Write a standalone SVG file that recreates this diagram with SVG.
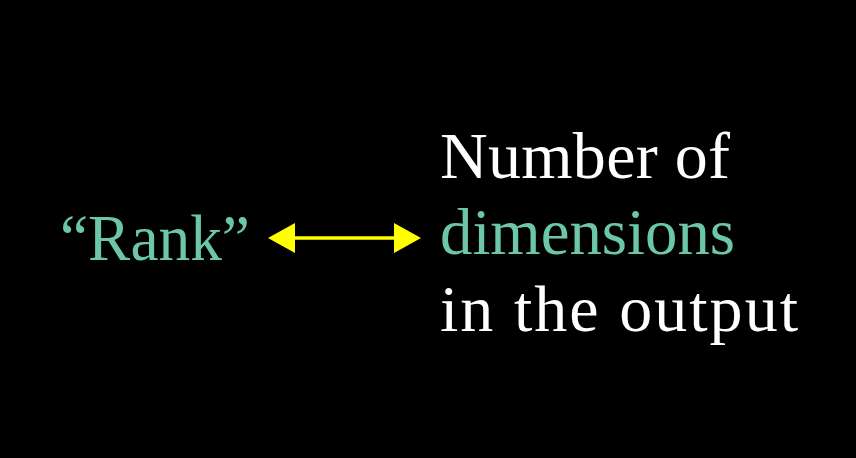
<svg xmlns="http://www.w3.org/2000/svg" width="856" height="458" viewBox="0 0 856 458">
<defs>
<style>
.t{font-family:"Liberation Serif","DejaVu Serif",serif;font-size:66px}
.w{fill:#ffffff}
.g{fill:#6cc7a8}
.c{stroke:#ffff00;stroke-width:3.5;fill:none}
.h{fill:#ffff00}
</style>
</defs>
<rect width="856" height="458" fill="#000"/>
<g id="rank"><text class="t g" x="60" y="260" textLength="190" lengthAdjust="spacingAndGlyphs">“Rank”</text></g>
<g id="description">
<text class="t w" x="440" y="178" textLength="290" lengthAdjust="spacing">Number of</text>
<text class="t g" x="440" y="254" textLength="295" lengthAdjust="spacingAndGlyphs">dimensions</text>
<text class="t w" x="440" y="331" textLength="358" lengthAdjust="spacing">in the output</text>
</g>
<g id="connectors">
<line class="c" x1="290" y1="238" x2="398" y2="238"/>
<polygon class="h" points="268,238 295,223 295,253"/>
<polygon class="h" points="421,238 394,223 394,253"/>
</g>
</svg>
